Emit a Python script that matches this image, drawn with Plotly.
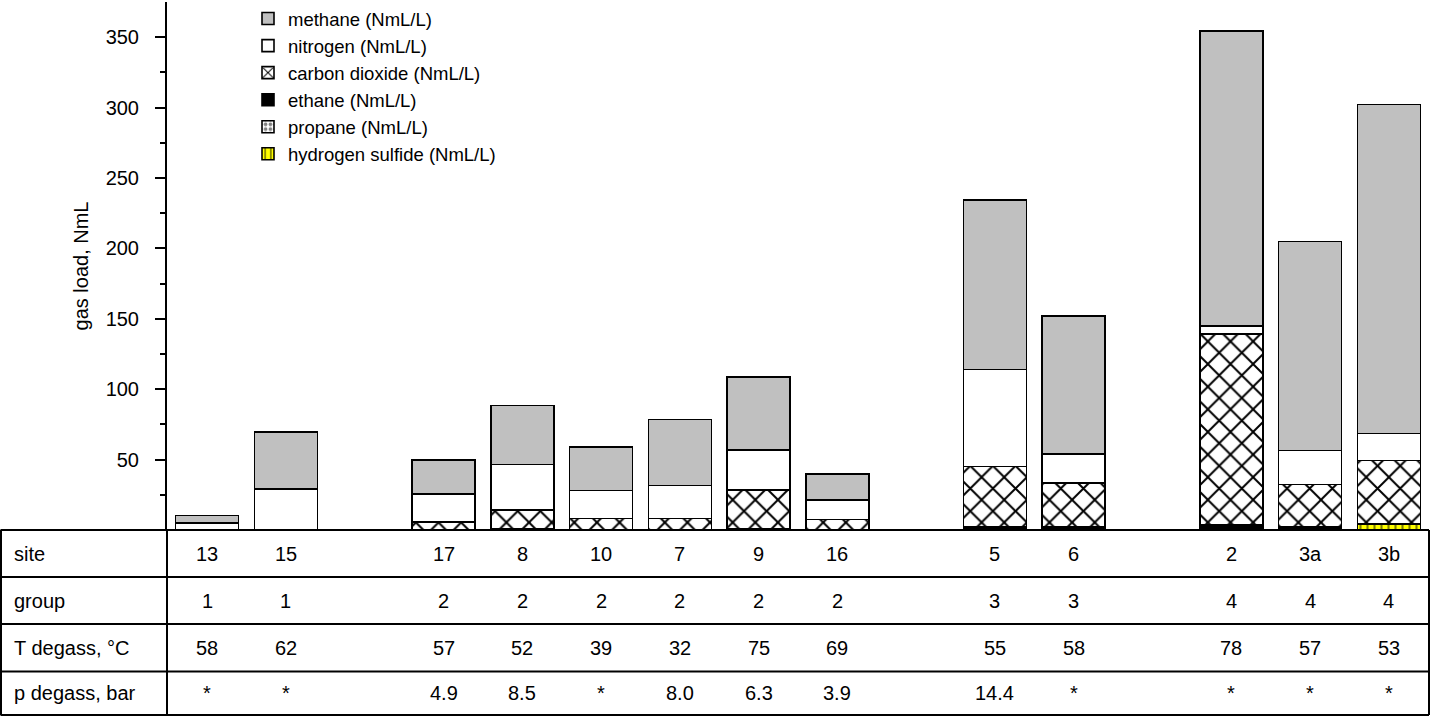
import plotly.graph_objects as go

# ---------------- data ----------------
sites = ["13", "15", "17", "8", "10", "7", "9", "16", "5", "6", "2", "3a", "3b"]
groups = [1, 1, 2, 2, 2, 2, 2, 2, 3, 3, 4, 4, 4]
t_degass = ["58", "62", "57", "52", "39", "32", "75", "69", "55", "58", "78", "57", "53"]
p_degass = ["*", "*", "4.9", "8.5", "*", "8.0", "6.3", "3.9", "14.4", "*", "*", "*", "*"]

methane = [5.2, 40.5, 24.3, 41.7, 30.9, 46.8, 51.9, 18.8, 120.5, 98.0, 209.7, 148.6, 233.9]
nitrogen = [5.0, 28.8, 20.1, 32.4, 19.8, 23.4, 28.3, 13.7, 68.7, 20.3, 5.3, 24.1, 19.1]
carbon_dioxide = [0.0, 0.3, 5.2, 13.2, 7.7, 7.7, 27.5, 7.1, 43.2, 31.0, 135.4, 30.3, 44.8]
ethane = [0.0, 0.0, 0.3, 1.0, 0.5, 0.5, 1.0, 0.3, 2.0, 2.5, 4.0, 2.0, 0.5]
propane = [0.0, 0.0, 0.0, 0.0, 0.0, 0.0, 0.0, 0.0, 0.0, 0.0, 0.0, 0.0, 0.0]
hydrogen_sulfide = [0.0, 0.0, 0.0, 0.0, 0.0, 0.0, 0.0, 0.0, 0.0, 0.0, 0.0, 0.0, 4.0]

y_ticks = [50, 100, 150, 200, 250, 300, 350]
row_labels = ["site", "group", "T degass, °C", "p degass, bar"]

# ---------------- figure ----------------
FONT = "Liberation Sans, Arial, sans-serif"
FS = 20

# one empty slot between groups
xpos = [i + g - 1 for i, g in enumerate(groups)]

series = [
    ("hydrogen sulfide (NmL/L)", hydrogen_sulfide, dict(color="#ffff00", pattern=dict(shape="|", fgcolor="black", bgcolor="#ffff00", size=7, solidity=0.3))),
    ("propane (NmL/L)", propane, dict(color="white", pattern=dict(shape=".", fgcolor="black", bgcolor="white", size=6, solidity=0.45))),
    ("ethane (NmL/L)", ethane, dict(color="black")),
    ("carbon dioxide (NmL/L)", carbon_dioxide, dict(color="white", pattern=dict(shape="x", fgcolor="black", bgcolor="white", size=16, solidity=0.23, fgopacity=1))),
    ("nitrogen (NmL/L)", nitrogen, dict(color="white")),
    ("methane (NmL/L)", methane, dict(color="#c0c0c0")),
]

fig = go.Figure()
for name, vals, mk in series:
    mk = dict(mk)
    mk["line"] = dict(color="black", width=1.6)
    fig.add_trace(go.Bar(x=xpos, y=vals, name=name, width=0.8, marker=mk))

# plot area geometry (pixels)
W, H = 1431, 716
L, R, T, B = 167, 2, 2, 186
pw, ph = W - L - R, H - T - B

def px_x(px):
    return (px - L) / pw

def px_y(py):
    return (H - B - py) / ph

# table rows (pixel boundaries)
row_edges = [530, 577, 624, 671.5, 715]
shapes = []
line = dict(color="black", width=2)
for ye in row_edges:
    shapes.append(dict(type="line", xref="paper", yref="paper",
                       x0=px_x(0.5), x1=px_x(1429), y0=px_y(ye), y1=px_y(ye), line=line))
for xe in [1, 167, 1429]:
    shapes.append(dict(type="line", xref="paper", yref="paper",
                       x0=px_x(xe), x1=px_x(xe), y0=px_y(row_edges[0]), y1=px_y(row_edges[-1]), line=line))

annotations = []
table_rows = [sites, [str(g) for g in groups], t_degass, p_degass]
for r, (lab, vals) in enumerate(zip(row_labels, table_rows)):
    yc = px_y((row_edges[r] + row_edges[r + 1]) / 2)
    annotations.append(dict(xref="paper", yref="paper", x=px_x(12), y=yc, text=lab,
                            showarrow=False, xanchor="left", yanchor="middle",
                            font=dict(family=FONT, size=FS, color="black")))
    for xv, v in zip(xpos, vals):
        annotations.append(dict(xref="x", yref="paper", x=xv, y=yc, text=v,
                                showarrow=False, xanchor="center", yanchor="middle",
                                font=dict(family=FONT, size=FS, color="black")))

fig.update_layout(
    width=W, height=H,
    margin=dict(l=L, r=R, t=T, b=B, pad=0, autoexpand=False),
    barmode="stack",
    plot_bgcolor="white", paper_bgcolor="white",
    font=dict(family=FONT, size=FS, color="black"),
    showlegend=True,
    legend=dict(traceorder="reversed", x=px_x(248), y=px_y(0), xanchor="left", yanchor="top",
                bgcolor="rgba(0,0,0,0)", borderwidth=0, font=dict(family=FONT, size=18.5),
                itemwidth=30, tracegroupgap=0),
    xaxis=dict(range=[-0.51, 15.51], showticklabels=False, ticks="", showgrid=False,
               zeroline=False, showline=False, fixedrange=True),
    yaxis=dict(range=[0, 375], tickvals=y_ticks, ticks="outside", ticklen=10, tickwidth=2,
               tickcolor="black", showline=True, linecolor="black", linewidth=2,
               showgrid=False, zeroline=False, ticklabelstandoff=12,
               tickfont=dict(family=FONT, size=FS),
               minor=dict(tickvals=[v - 25 for v in y_ticks], ticks="outside", ticklen=5,
                          tickwidth=2, tickcolor="black", showgrid=False),
               title=dict(text="gas load, NmL", font=dict(family=FONT, size=FS), standoff=12)),
    shapes=shapes,
    annotations=annotations,
)

fig.write_html("out.html", config={"displayModeBar": False},
               post_script="document.body.style.margin='0';")
